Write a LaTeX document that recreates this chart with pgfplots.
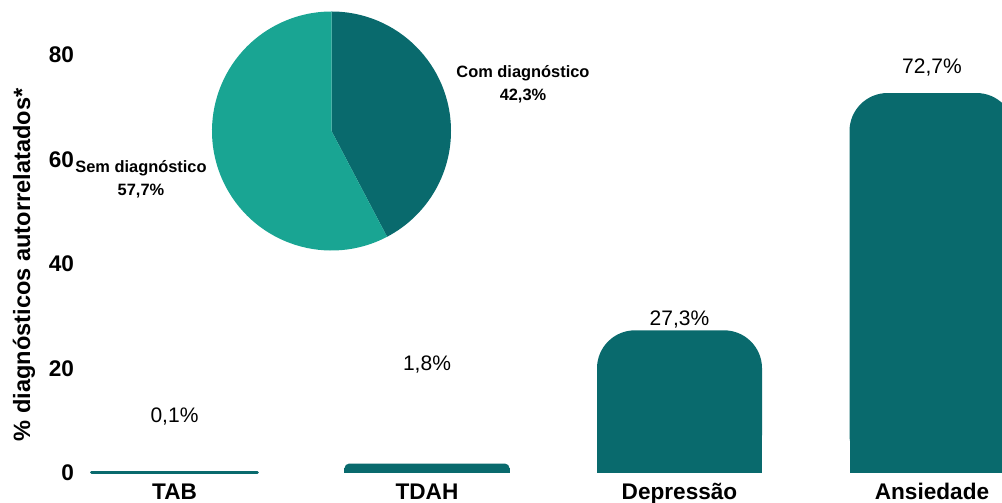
\documentclass[border=0pt]{standalone}
\usepackage{fontspec}
\setmainfont{Liberation Sans}
\usepackage{pgfplots}
\pgfplotsset{compat=1.18}
\definecolor{darkteal}{HTML}{096A6D}
\definecolor{lightteal}{HTML}{19A593}
\def\pieA{42.3}
\def\pieB{57.7}
\begin{document}
\begin{tikzpicture}
\begin{axis}[
  at={(0,0)}, anchor=south west, scale only axis,
  width=460.5pt, height=236.5pt,
  xmin=-0.3703, xmax=3.2772, ymin=0, ymax=90.5,
  clip=false,
  axis line style={draw=none}, tick style={draw=none},
  xtick={0,1,2,3}, xticklabels={TAB,TDAH,Depressão,Ansiedade},
  ytick={0,20,40,60,80},
  /pgf/number format/assume math mode=true,
  ticklabel style={font=\bfseries\fontsize{11.3}{13}\selectfont},
  xticklabel style={yshift=2.5pt},
  ybar, bar width=0.6535,
]
\addplot[fill=darkteal, draw=darkteal, line width=1.5pt, line join=round, bar shift=0pt] coordinates {(0,0.1)};
\addplot[fill=darkteal, draw=none, rounded corners=2.3pt, bar shift=0pt] coordinates {(1,1.8)};
\addplot[fill=darkteal, draw=none, bar shift=0pt, y filter/.expression={y/2}] coordinates {(1,1.8)};
\addplot[fill=darkteal, draw=none, rounded corners=19pt, bar shift=0pt] coordinates {(2,27.3)};
\addplot[fill=darkteal, draw=none, bar shift=0pt, y filter/.expression={y/2}] coordinates {(2,27.3)};
\addplot[fill=darkteal, draw=none, rounded corners=19pt, bar shift=0pt] coordinates {(3,72.7)};
\addplot[fill=darkteal, draw=none, bar shift=0pt, y filter/.expression={y/2}] coordinates {(3,72.7)};
\node[font=\fontsize{10.5}{12}\selectfont] at (axis cs:0,10.72) {0,1\%};
\node[font=\fontsize{10.5}{12}\selectfont] at (axis cs:1,20.67) {1,8\%};
\node[font=\fontsize{10.5}{12}\selectfont] at (axis cs:2,29.28) {27,3\%};
\node[font=\fontsize{10.5}{12}\selectfont] at (axis cs:3,77.5) {72,7\%};
\end{axis}
% pie
\coordinate (C) at (125.25pt,171pt);
\def\R{59.75pt}
\fill[darkteal] (C) -- ++(90:\R) arc[start angle=90, end angle={90-3.6*\pieA}, radius=\R] -- cycle;
\fill[lightteal] (C) -- ++({90-3.6*\pieA}:\R) arc[start angle={90-3.6*\pieA}, end angle={90-3.6*\pieA-3.6*\pieB}, radius=\R] -- cycle;
\node[font=\bfseries\fontsize{8.2}{11.5}\selectfont, align=center] at (221pt,194.25pt) {Com diagnóstico\\42,3\%};
\node[font=\bfseries\fontsize{8.2}{11.5}\selectfont, align=center] at (30pt,146.75pt) {Sem diagnóstico\\57,7\%};
\node[font=\bfseries\fontsize{11.8}{14}\selectfont, rotate=90] at (-28.5pt,104pt) {\% diagnósticos autorrelatados*};
\pgfresetboundingbox
\useasboundingbox (-40.5pt,-15pt) rectangle (460.5pt,236.5pt);
\end{tikzpicture}
\end{document}
